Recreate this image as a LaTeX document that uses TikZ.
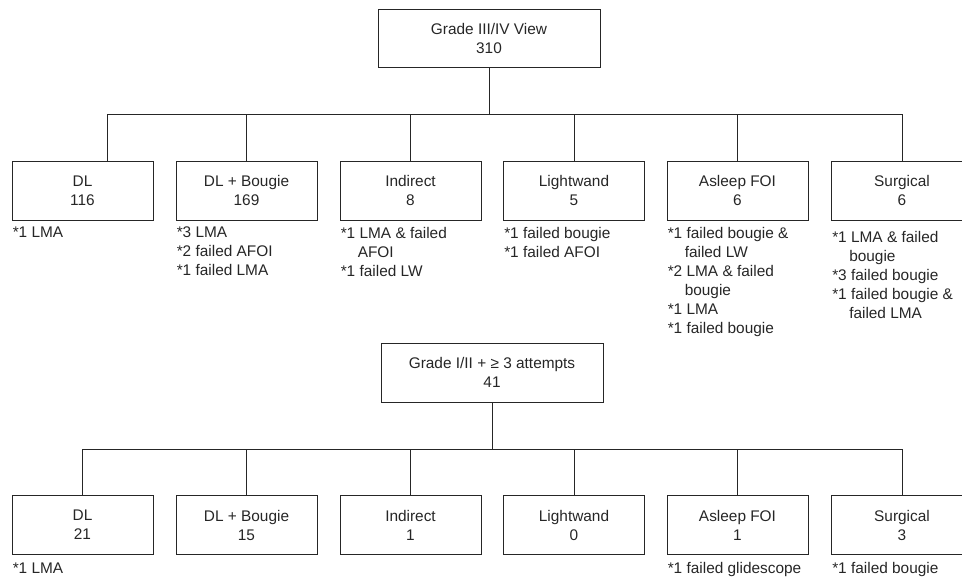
\documentclass[tikz,border=0pt]{standalone}
\usepackage{fontspec}
\setmainfont{Liberation Sans}
\usepackage{xcolor}
\definecolor{ink}{HTML}{262626}

\tikzset{
  box/.style={draw=ink, line width=.9pt, minimum width=141pt, minimum height=59pt, align=center, inner sep=0pt},
  headbox/.style={box, minimum width=222pt, minimum height=58pt},
  note/.style={anchor=north west, align=left, inner sep=0pt},
  link/.style={draw=ink, line width=.9pt}
}

\begin{document}
\begin{tikzpicture}[x=1pt, y=-1pt, font=\fontsize{15.4}{19}\selectfont, text=ink]
\clip (0,0) rectangle (962,578);
% grade III/IV
\node[headbox] (view) at (489,38) {Grade III/IV View\\310};
\coordinate (bara) at (489,114);
\draw[link] (view) -- (bara);
\foreach \n/\x/\t/\v in {dla/82.5/DL/116, bga/246.5/DL + Bougie/169, ina/410.5/Indirect/8,
  lwa/574/Lightwand/5, foa/737.5/Asleep FOI/6, sua/902/Surgical/6} {
 \node[box] (\n) at (\x,190.5) {\t\\\v};
}
\draw[link] ([xshift=25pt]dla.north) |- (bara);
\foreach \n in {bga,ina,lwa,foa,sua}
 \draw[link] (\n.north) |- (bara);
% notes under the boxes
\node[note] (dlan) at ([xshift=1pt, yshift=-6.5pt]dla.south west) {*1 LMA};
\node[note] (bgan) at ([xshift=1pt, yshift=-6.5pt]bga.south west) {*3 LMA\\*2 failed AFOI\\*1 failed LMA};
\node[note] (inan) at ([xshift=1pt, yshift=-6.5pt]ina.south west) {*1 LMA \& failed\\\hspace*{17pt}AFOI\\*1 failed LW};
\node[note] (lwan) at ([xshift=1pt, yshift=-6.5pt]lwa.south west) {*1 failed bougie\\*1 failed AFOI};
\node[note] (foan) at ([xshift=1pt, yshift=-6.5pt]foa.south west) {*1 failed bougie \&\\\hspace*{17pt}failed LW\\*2 LMA \& failed\\\hspace*{17pt}bougie\\*1 LMA\\*1 failed bougie};
\node[note] (suan) at ([xshift=1pt, yshift=-11pt]sua.south west) {*1 LMA \& failed\\\hspace*{17pt}bougie\\*3 failed bougie\\*1 failed bougie \&\\\hspace*{17pt}failed LMA};
% grade I/II
\node[headbox, minimum height=59pt] (tries) at (492,372.5) {Grade I/II + ≥ 3 attempts\\41};
\coordinate (barb) at (492,449);
\draw[link] (tries) -- (barb);
\foreach \n/\x/\t/\v in {dlb/82.5/DL/21, bgb/246.5/DL + Bougie/15, inb/410.5/Indirect/1,
  lwb/574/Lightwand/0, fob/737.5/Asleep FOI/1, sub/902/Surgical/3} {
 \node[box] (\n) at (\x,525) {\t\\\v};
 \draw[link] (\n.north) |- (barb);
}
\node[note] (dlbn) at ([xshift=1pt, yshift=-7.5pt]dlb.south west) {*1 LMA};
\node[note] (fobn) at ([xshift=1pt, yshift=-7.5pt]fob.south west) {*1 failed glidescope};
\node[note] (subn) at ([xshift=1pt, yshift=-7.5pt]sub.south west) {*1 failed bougie};
\end{tikzpicture}
\end{document}
